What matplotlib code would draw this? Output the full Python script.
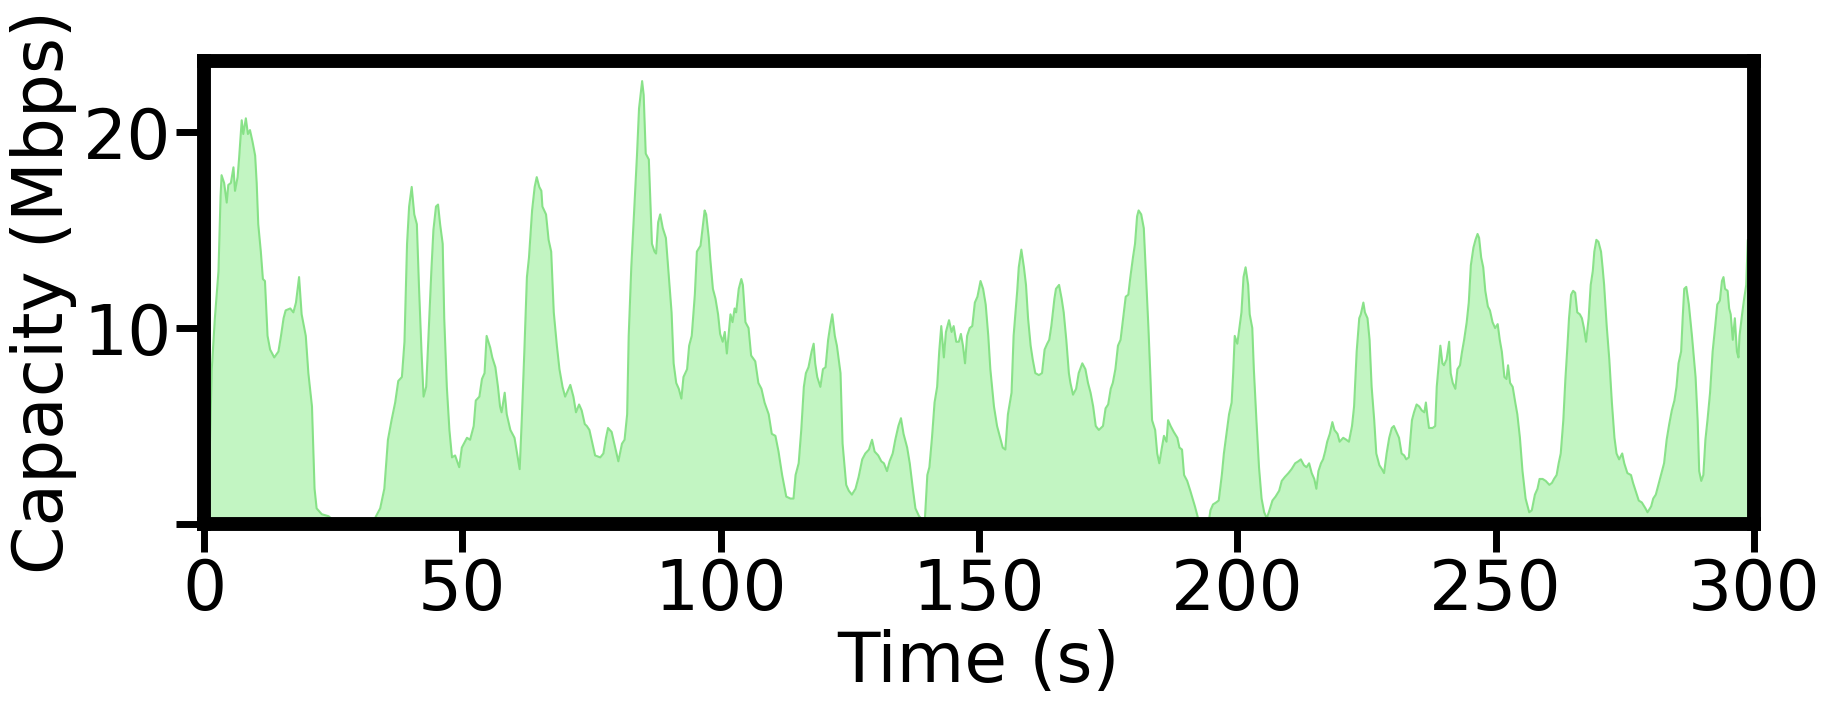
import matplotlib
matplotlib.use("Agg")
import matplotlib.pyplot as plt

# capacity trace (time in s, capacity in Mbps)
time_s = [
    0, 1, 1.5, 2.1, 2.8, 3.2, 3.4, 3.9, 4.4, 4.7, 5.2, 5.7, 6.0, 6.5, 6.8, 7.3, 7.6, 8.1, 8.5, 8.9,
    9.4, 9.9, 10.2, 10.5, 11.0, 11.4, 11.8, 12.3, 12.8, 13.6, 14.4, 14.9, 15.4, 15.8, 16.7, 17.3,
    17.8, 18.4, 18.9, 19.7, 20.2, 20.9, 21.4, 21.8, 22.8, 24.1, 25.0, 25.4, 26.0, 32.5, 33.1, 34.1,
    34.9, 35.6, 36.3, 37.0, 37.6, 38.3, 38.8, 39.3, 39.7, 40.2, 40.7, 41.2, 41.6, 42.1, 42.5, 43.0,
    43.4, 44.0, 44.4, 44.9, 45.3, 45.7, 46.2, 46.5, 47.0, 47.5, 48.0, 48.6, 49.4, 49.9, 50.9, 51.5,
    52.2, 52.6, 53.3, 53.8, 54.3, 54.7, 55.4, 55.8, 56.4, 56.9, 57.3, 57.6, 58.2, 58.6, 59.3, 60.1,
    60.6, 61.1, 61.5, 62.0, 62.5, 62.9, 63.5, 64.0, 64.4, 64.9, 65.3, 65.5, 66.2, 66.7, 67.2, 67.7,
    68.3, 68.8, 69.4, 69.9, 70.9, 71.5, 72.0, 72.6, 73.1, 73.7, 74.1, 74.6, 75.1, 75.7, 76.7, 77.3,
    77.8, 78.2, 78.9, 79.6, 80.2, 80.9, 81.4, 81.9, 82.2, 82.7, 83.4, 83.8, 84.2, 84.8, 85.1, 85.5,
    86.1, 86.4, 86.7, 87.2, 87.5, 87.9, 88.3, 88.8, 89.4, 89.9, 90.5, 90.9, 91.4, 91.9, 92.4, 92.8,
    93.5, 93.9, 94.4, 95.0, 95.4, 96.1, 96.5, 96.9, 97.2, 97.7, 98.0, 98.5, 99.0, 99.5, 99.9, 100.4,
    100.8, 101.2, 101.9, 102.3, 102.7, 103.0, 103.5, 104.0, 104.3, 104.8, 105.4, 105.9, 106.7, 107.3,
    107.9, 108.5, 109.3, 109.9, 110.6, 111.2, 111.9, 112.7, 113.5, 114.1, 114.5, 115.1, 115.6, 116.1,
    116.5, 117.0, 117.6, 118.0, 118.3, 118.7, 119.3, 119.8, 120.3, 120.8, 121.2, 121.6, 122.1, 122.5,
    123.2, 123.6, 124.3, 124.8, 125.4, 126.1, 126.7, 127.4, 128.0, 128.7, 129.3, 129.8, 130.5, 131.1,
    131.6, 132.2, 132.7, 133.3, 133.8, 134.4, 134.9, 135.4, 136.1, 136.6, 137.2, 137.7, 138.4, 139.5,
    140.0, 140.4, 140.9, 141.4, 141.9, 142.3, 142.7, 143.2, 143.6, 144.2, 144.7, 145.1, 145.6, 146.1,
    146.5, 146.9, 147.3, 147.7, 148.2, 148.7, 149.2, 149.7, 150.3, 150.8, 151.3, 151.8, 152.2, 152.9,
    153.5, 154.2, 154.6, 155.1, 155.6, 156.3, 156.7, 157.4, 157.7, 158.2, 158.7, 159.1, 159.5, 160.0,
    160.4, 160.9, 161.6, 162.2, 162.7, 163.2, 163.6, 164.0, 164.6, 164.9, 165.5, 166.0, 166.4, 166.9,
    167.4, 167.7, 168.2, 168.8, 169.3, 170.0, 170.6, 171.1, 171.6, 172.1, 172.6, 173.2, 174.0, 174.5,
    175.0, 175.5, 175.9, 176.4, 176.9, 177.4, 177.9, 178.4, 178.9, 179.3, 179.8, 180.2, 180.6, 180.9,
    181.4, 181.9, 182.4, 182.8, 183.2, 183.5, 184.1, 184.5, 184.9, 185.4, 185.8, 186.3, 186.6, 187.1,
    187.7, 188.4, 188.8, 189.3, 189.7, 190.3, 190.9, 191.8, 192.5, 192.9, 194.4, 194.8, 195.3, 195.9,
    196.4, 197.0, 197.4, 197.9, 198.4, 198.9, 199.2, 199.5, 200.0, 200.3, 200.8, 201.2, 201.6, 202.1,
    202.4, 202.9, 203.2, 203.7, 204.2, 204.7, 205.2, 205.7, 206.1, 206.8, 207.4, 208.1, 208.6, 209.2,
    209.9, 210.5, 211.2, 211.8, 212.3, 212.9, 213.4, 213.9, 214.4, 214.9, 215.3, 215.7, 216.2, 216.6,
    217.0, 217.4, 217.9, 218.4, 218.8, 219.4, 219.8, 220.5, 221.1, 221.6, 222.2, 222.6, 223.1, 223.6,
    223.9, 224.4, 224.7, 225.2, 225.6, 226.0, 226.5, 226.9, 227.5, 228.0, 228.4, 228.9, 229.4, 229.9,
    230.3, 230.8, 231.3, 231.8, 232.3, 232.7, 233.2, 233.8, 234.2, 234.7, 235.2, 235.7, 236.2, 236.5,
    236.8, 237.1, 237.8, 238.3, 238.6, 239.0, 239.3, 239.7, 240.0, 240.5, 241.0, 241.3, 241.7, 242.2,
    242.6, 243.1, 243.5, 243.9, 244.4, 244.8, 245.2, 245.7, 246.1, 246.5, 246.8, 247.2, 247.6, 248.0,
    248.5, 248.9, 249.4, 249.9, 250.4, 250.8, 251.2, 251.7, 252.1, 252.4, 252.8, 253.3, 253.8, 254.2,
    254.7, 255.2, 255.8, 256.5, 257.0, 257.6, 258.1, 258.5, 259.1, 259.7, 260.4, 260.9, 261.3, 261.8,
    262.2, 262.6, 263.1, 263.5, 263.9, 264.2, 264.6, 265.0, 265.4, 265.8, 266.3, 266.7, 267.1, 267.5,
    268.0, 268.4, 268.8, 269.1, 269.5, 269.9, 270.4, 270.7, 271.0, 271.5, 272.0, 272.5, 273.0, 273.4,
    273.9, 274.5, 274.9, 275.5, 276.2, 276.6, 277.2, 277.7, 278.3, 279.0, 279.4, 280.1, 280.5, 281.0,
    281.5, 282.0, 282.6, 283.1, 283.6, 284.1, 284.6, 285.0, 285.4, 285.9, 286.2, 286.5, 286.9, 287.4,
    288.0, 288.4, 288.7, 289.1, 289.4, 289.8, 290.2, 290.6, 291.0, 291.5, 292.0, 292.5, 292.9, 293.4,
    293.8, 294.1, 294.4, 294.9, 295.2, 295.5, 295.9, 296.3, 296.7, 297.0, 297.2, 297.7, 298.1, 298.5,
    298.8, 299.3,
]
capacity_mbps = [
    0.3, 2.5, 7.9, 10.5, 12.9, 16.7, 17.8, 17.4, 16.4, 17.3, 17.4, 18.2, 17.0, 17.7, 18.7, 20.6, 19.9, 20.7, 19.9, 20.1,
    19.5, 18.8, 17.4, 15.3, 13.9, 12.5, 12.4, 9.6, 8.9, 8.5, 8.8, 9.6, 10.5, 10.9, 11.0, 10.8,
    11.3, 12.6, 10.7, 9.6, 7.7, 6.0, 1.8, 0.8, 0.5, 0.4, 0.2, 0.1, 0.0, 0.0, 0.3, 0.8,
    1.8, 4.3, 5.3, 6.2, 7.3, 7.5, 9.3, 14.3, 16.2, 17.2, 15.8, 15.3, 12.2, 8.8, 6.5, 7.0,
    9.3, 12.9, 15.0, 16.2, 16.3, 15.3, 14.3, 10.5, 7.0, 4.8, 3.4, 3.5, 2.9, 3.9, 4.4, 4.3,
    5.0, 6.3, 6.5, 7.4, 7.7, 9.6, 9.0, 8.5, 8.0, 7.0, 6.0, 5.7, 6.7, 5.6, 4.8, 4.4,
    3.6, 2.8, 5.3, 8.8, 12.6, 13.6, 16.0, 17.2, 17.7, 17.2, 17.0, 16.2, 15.8, 14.5, 13.9, 10.8,
    9.1, 7.9, 7.0, 6.5, 7.1, 6.5, 5.7, 6.1, 5.8, 5.1, 5.0, 4.8, 4.2, 3.5, 3.4, 3.6,
    4.4, 4.9, 4.7, 3.9, 3.2, 4.1, 4.3, 5.6, 9.6, 13.1, 16.7, 18.8, 21.2, 22.6, 21.9, 18.9,
    18.6, 16.5, 14.3, 13.9, 13.8, 15.4, 15.8, 15.1, 14.6, 12.9, 10.8, 8.2, 7.2, 6.9, 6.4, 7.5,
    7.9, 9.1, 9.6, 11.7, 13.9, 14.2, 15.1, 16.0, 15.8, 14.6, 13.5, 12.0, 11.5, 10.7, 9.7, 9.3,
    9.8, 8.7, 10.7, 10.3, 11.0, 10.8, 12.0, 12.5, 12.2, 10.3, 10.0, 8.6, 8.3, 7.2,
    6.9, 6.2, 5.6, 4.6, 4.5, 3.7, 2.5, 1.4, 1.3, 1.3, 2.5, 3.1, 4.8, 7.0,
    7.7, 8.0, 8.8, 9.2, 8.2, 7.5, 7.0, 7.9, 8.0, 9.4, 10.1, 10.7, 9.6, 9.1,
    7.7, 4.1, 2.0, 1.7, 1.5, 1.8, 2.4, 3.3, 3.6, 3.8, 4.3, 3.7, 3.5, 3.2,
    3.1, 2.7, 3.2, 3.6, 4.3, 5.0, 5.4, 4.6, 3.9, 3.1, 1.8, 0.8, 0.4, 0.1,
    2.5, 2.9, 4.4, 6.2, 7.0, 8.8, 10.1, 8.5, 9.8, 10.4, 9.8, 10.1, 9.3, 9.3,
    9.7, 9.1, 8.2, 9.6, 10.0, 10.1, 11.3, 11.6, 12.4, 12.0, 11.2, 9.6, 7.9, 6.0,
    5.0, 4.3, 3.9, 3.8, 5.6, 6.7, 9.6, 11.9, 13.1, 14.0, 13.1, 12.2, 10.5, 9.1,
    8.4, 7.7, 7.6, 7.7, 8.9, 9.2, 9.4, 10.1, 11.5, 12.0, 12.2, 11.5, 10.8, 9.4,
    7.7, 7.2, 6.6, 6.9, 7.7, 8.2, 7.9, 7.2, 6.7, 6.0, 5.0, 4.8, 5.0, 5.9,
    6.1, 6.9, 7.2, 7.9, 9.1, 9.4, 10.5, 11.6, 11.7, 12.6, 13.6, 14.3, 15.7, 16.0,
    15.8, 15.1, 12.2, 10.0, 7.4, 5.3, 4.8, 3.6, 3.1, 3.9, 4.5, 4.2, 5.3, 5.0,
    4.7, 4.4, 3.9, 3.8, 2.5, 2.2, 1.7, 0.9, 0.2, 0.0, 0.0, 0.7, 1.0, 1.1,
    1.2, 2.5, 3.6, 4.6, 5.6, 6.2, 7.7, 9.6, 9.2, 9.8, 10.8, 12.6, 13.1, 12.2,
    10.7, 10.0, 7.9, 5.3, 2.9, 1.3, 0.6, 0.3, 0.6, 1.2, 1.4, 1.7, 2.2, 2.4,
    2.6, 2.8, 3.1, 3.2, 3.3, 3.0, 2.9, 3.1, 2.6, 2.3, 1.8, 2.7, 3.1, 3.3,
    3.7, 4.2, 4.6, 5.2, 4.8, 4.6, 4.2, 4.4, 4.3, 4.2, 5.0, 6.0, 8.8, 10.5,
    10.7, 11.3, 10.8, 10.5, 9.4, 7.0, 5.3, 3.6, 3.0, 2.8, 2.6, 3.6, 4.4, 4.9,
    5.0, 4.7, 4.4, 3.6, 3.5, 3.3, 3.4, 5.3, 5.7, 6.1, 6.0, 5.8, 5.7, 6.2,
    5.5, 4.9, 4.9, 5.0, 7.0, 8.2, 9.1, 8.2, 8.1, 8.4, 9.3, 7.7, 7.2, 6.9,
    7.9, 8.1, 8.8, 9.4, 10.3, 11.3, 13.2, 14.1, 14.5, 14.8, 14.6, 13.6, 13.1, 11.9,
    11.1, 10.9, 10.3, 10.0, 10.2, 9.4, 8.8, 7.5, 7.4, 8.1, 7.2, 7.0, 6.2, 5.6,
    4.4, 2.7, 1.3, 0.6, 0.7, 1.5, 1.8, 2.3, 2.3, 2.2, 2.0, 2.1, 2.3, 2.5,
    3.1, 3.6, 5.3, 7.4, 9.1, 10.5, 11.7, 11.9, 11.8, 10.8, 10.7, 10.5, 10.0, 9.3,
    10.5, 12.2, 12.9, 13.9, 14.5, 14.4, 13.9, 13.1, 12.2, 10.1, 8.4, 6.2, 4.4, 3.6,
    3.3, 3.6, 3.1, 2.6, 2.5, 2.1, 1.6, 1.2, 1.1, 0.8, 0.6, 0.9, 1.3, 1.5,
    2.0, 2.5, 3.1, 4.3, 5.1, 5.8, 6.3, 7.0, 8.2, 8.8, 10.5, 12.0, 12.1, 11.2,
    9.6, 8.4, 7.5, 5.3, 2.7, 2.2, 2.5, 4.3, 5.3, 6.7, 8.8, 10.1, 11.2, 11.4,
    12.4, 12.6, 12.0, 11.9, 11.0, 10.7, 9.4, 10.5, 8.8, 8.5, 9.6, 10.7, 11.5, 12.2,
    14.5, 14.5,
]

fig = plt.figure(figsize=(18.28, 7.05), dpi=100)
ax = fig.add_axes([0.1116, 0.2567, 0.8479, 0.6572])

ax.fill_between(time_s, capacity_mbps, color='lightgreen', alpha=0.55, linewidth=0)
ax.plot(time_s, capacity_mbps, color='#7fdf7f', linewidth=1.5, alpha=0.9)

ax.set_xlim(0, 300)
ax.set_ylim(0, 23.64)
ax.set_xticks([0, 50, 100, 150, 200, 250, 300])
ax.set_yticks([0, 10, 20])
ax.set_yticklabels(['', '10', '20'])

for s in ax.spines.values():
    s.set_linewidth(10)
ax.tick_params(axis='both', labelsize=50, length=20, width=5)

ax.set_xlabel('Time (s)', fontsize=50)
ax.set_ylabel('Capacity (Mbps)', fontsize=50)

plt.savefig("out.png", dpi=100)
